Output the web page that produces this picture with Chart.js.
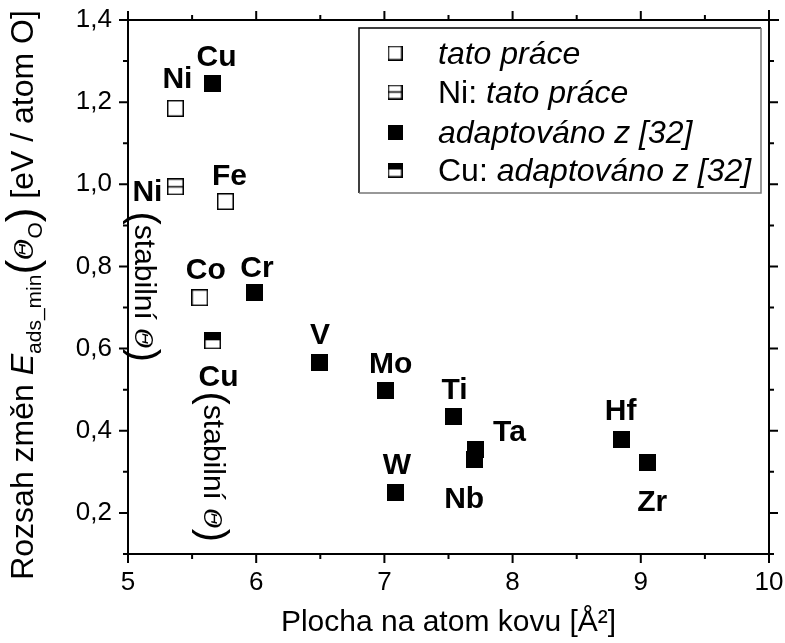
<!DOCTYPE html>
<html>
<head>
<meta charset="utf-8">
<script src="https://cdn.jsdelivr.net/npm/chart.js@4.4.0/dist/chart.umd.min.js"></script>
<style>
  html, body { margin: 0; padding: 0; background: #fff; }
</style>
</head>
<body>
<canvas id="graf" width="785" height="643"></canvas>
<script>
// tato práce – otevřené čtverce
const vlastniX = [5.37, 5.76, 5.56];
const vlastniY = [1.185, 0.958, 0.724];
const vlastniKovy = ['Ni', 'Fe', 'Co'];

// Ni: tato práce (stabilní Θ)
const niX = [5.37];
const niY = [0.994];
const niKovy = ['Ni'];

// adaptováno z [32] – plné čtverce
const prevzateX = [5.66, 5.99, 6.49, 7.01, 7.09, 7.54, 7.71, 7.70, 8.85, 9.05];
const prevzateY = [1.246, 0.737, 0.567, 0.497, 0.250, 0.434, 0.355, 0.329, 0.378, 0.323];
const prevzateKovy = ['Cu', 'Cr', 'V', 'Mo', 'W', 'Ti', 'Ta', 'Nb', 'Hf', 'Zr'];

// Cu: adaptováno z [32] (stabilní Θ)
const cuX = [5.66];
const cuY = [0.619];
const cuKovy = ['Cu'];

const popiskyLegendy = ['tato práce', 'Ni: tato práce', 'adaptováno z [32]', 'Cu: adaptováno z [32]'];

// osy
const xTicky = [5, 5.5, 6, 6.5, 7, 7.5, 8, 8.5, 9, 9.5, 10];
const yTicky = [0.1, 0.2, 0.3, 0.4, 0.5, 0.6, 0.7, 0.8, 0.9, 1.0, 1.1, 1.2, 1.3, 1.4];

// posuny popisků od bodu (px)
const posunVlastni = [[2, -31], [4, -27], [6, -29]];
const posunNi = [[-28, 3]];
const posunPrevzate = [[4, -28], [2, -26], [1, -29], [5, -29], [1, -29], [1, -29], [34, -19], [-10, 37], [-1, -31], [5, 38]];
const posunCu = [[6, 34]];

const PISMO = "'Liberation Sans', Arial, sans-serif";

function body(xs, ys) {
  return xs.map((x, i) => ({ x: x, y: ys[i] }));
}

// značky bodů kreslené do malého canvasu
function znacka(typ, s) {
  const c = document.createElement('canvas');
  c.width = s; c.height = s;
  const g = c.getContext('2d');
  const w = 1.5;
  g.fillStyle = '#fff';
  g.fillRect(0, 0, s, s);
  g.fillStyle = '#000';
  if (typ === 'plny') g.fillRect(0, 0, s, s);
  if (typ === 'pulka') g.fillRect(0, 0, s, Math.round(s * 0.47));
  g.strokeStyle = '#000';
  g.lineWidth = w;
  g.strokeRect(w / 2, w / 2, s - w, s - w);
  if (typ === 'cara') {
    g.beginPath();
    g.moveTo(0, s / 2); g.lineTo(s, s / 2);
    g.stroke();
  }
  return c;
}

const typy = ['prazdny', 'cara', 'plny', 'pulka'];
const znackyBodu = typy.map(t => znacka(t, 17));
const znackyLegendy = typy.map(t => znacka(t, 15));

// text složený z kousků s různým písmem
function kresliCasti(g, casti) {
  let w = 0;
  casti.forEach(c => { g.font = c.font; c.w = g.measureText(c.t).width; w += c.w; });
  let x = -w / 2;
  casti.forEach(c => {
    g.font = c.font;
    g.fillText(c.t, x, c.dy || 0);
    x += c.w;
  });
}

function stabilni(g, sx, sy) {
  g.save();
  g.translate(sx - 11, sy);
  g.rotate(Math.PI / 2);
  g.textAlign = 'left';
  g.textBaseline = 'alphabetic';
  kresliCasti(g, [
    { t: '(', font: `40px ${PISMO}`, dy: 4 },
    { t: 'stabilní ', font: `30px ${PISMO}` },
    { t: 'Θ', font: `italic 25px 'DejaVu Serif'` },
    { t: ')', font: `40px ${PISMO}`, dy: 4 }
  ]);
  g.restore();
}

const ramecek = {
  id: 'ramecek',
  afterDraw(chart) {
    const g = chart.ctx;
    const a = chart.chartArea;
    const sx = chart.scales.x, sy = chart.scales.y;
    g.save();
    g.strokeStyle = '#000';
    g.lineWidth = 2;
    g.beginPath();
    g.moveTo(a.left, a.top); g.lineTo(a.right + 10, a.top);
    g.moveTo(a.right, a.top - 10); g.lineTo(a.right, a.bottom);
    g.moveTo(a.left, a.top); g.lineTo(a.left, a.bottom);
    g.moveTo(a.left - 1, a.bottom); g.lineTo(a.right, a.bottom);
    xTicky.forEach(v => {
      const p = sx.getPixelForValue(v);
      const d = Number.isInteger(v) ? 9 : 5;
      g.moveTo(p, a.bottom); g.lineTo(p, a.bottom + d);
      g.moveTo(p, a.top); g.lineTo(p, a.top - d);
    });
    yTicky.forEach(v => {
      const p = sy.getPixelForValue(v);
      const d = Math.round(v * 10) % 2 === 0 ? 9 : 5;
      g.moveTo(a.left, p); g.lineTo(a.left - d, p);
      g.moveTo(a.right, p); g.lineTo(a.right + d, p);
    });
    g.stroke();

    // popisek osy x
    g.fillStyle = '#000';
    g.textAlign = 'center';
    g.textBaseline = 'alphabetic';
    g.font = `30px ${PISMO}`;
    g.fillText('Plocha na atom kovu [Å²]', (a.left + a.right) / 2, 631);

    // popisek osy y
    g.save();
    g.translate(33, (a.top + a.bottom) / 2 + 8);
    g.rotate(-Math.PI / 2);
    g.textAlign = 'left';
    kresliCasti(g, [
      { t: 'Rozsah změn ', font: `32px ${PISMO}` },
      { t: 'E', font: `italic 32px ${PISMO}` },
      { t: 'ads_min', font: `21px ${PISMO}`, dy: 8 },
      { t: '(', font: `44px ${PISMO}`, dy: 4 },
      { t: 'Θ', font: `italic 26px 'DejaVu Serif'` },
      { t: 'O', font: `21px ${PISMO}`, dy: 9 },
      { t: ')', font: `44px ${PISMO}`, dy: 4 },
      { t: ' [eV / atom O]', font: `32px ${PISMO}` }
    ]);
    g.restore();
    g.restore();
  }
};

const popisky = {
  id: 'popisky',
  afterDatasetsDraw(chart) {
    const g = chart.ctx;
    const sady = [
      [vlastniKovy, posunVlastni],
      [niKovy, posunNi],
      [prevzateKovy, posunPrevzate],
      [cuKovy, posunCu]
    ];
    g.save();
    g.fillStyle = '#000';
    g.textAlign = 'center';
    g.textBaseline = 'alphabetic';
    g.font = `bold 30px ${PISMO}`;
    const vyska = 0.716 * 30;
    sady.forEach(([jmena, posuny], i) => {
      chart.getDatasetMeta(i).data.forEach((el, j) => {
        g.fillText(jmena[j], el.x + posuny[j][0], el.y + posuny[j][1] + vyska / 2);
      });
    });
    // svislé poznámky u stabilních konfigurací
    const ni = chart.getDatasetMeta(1).data[0];
    stabilni(g, ni.x - 29, ni.y + 100);
    const cu = chart.getDatasetMeta(3).data[0];
    stabilni(g, cu.x + 2, cu.y + 126);
    g.restore();
  }
};

const legenda = {
  id: 'legenda',
  afterDraw(chart) {
    const g = chart.ctx;
    const L = 359, T = 28, R = 761, B = 193;
    g.save();
    g.lineWidth = 1.5;
    g.strokeStyle = '#000';
    g.beginPath();
    g.moveTo(L, B); g.lineTo(L, T); g.lineTo(R, T);
    g.stroke();
    g.strokeStyle = '#777';
    g.beginPath();
    g.moveTo(R, T); g.lineTo(R, B); g.lineTo(L, B);
    g.stroke();
    const radky = [53, 92, 132, 170];
    g.fillStyle = '#000';
    g.textAlign = 'left';
    g.textBaseline = 'alphabetic';
    chart.data.datasets.forEach((ds, i) => {
      const y = radky[i];
      g.drawImage(znackyLegendy[i], 395 - 7.5, y - 7.5);
      const casti = ds.label.split(': ');
      let x = 438;
      const base = y + 11;
      if (casti.length > 1) {
        g.font = `32px ${PISMO}`;
        const t = casti[0] + ': ';
        g.fillText(t, x, base);
        x += g.measureText(t).width;
      }
      g.font = `italic 32px ${PISMO}`;
      g.fillText(casti[casti.length - 1], x, base);
    });
    g.restore();
  }
};

const ctx = document.getElementById('graf').getContext('2d');
new Chart(ctx, {
  type: 'scatter',
  data: {
    datasets: [
      { label: popiskyLegendy[0], data: body(vlastniX, vlastniY), pointStyle: znackyBodu[0] },
      { label: popiskyLegendy[1], data: body(niX, niY), pointStyle: znackyBodu[1] },
      { label: popiskyLegendy[2], data: body(prevzateX, prevzateY), pointStyle: znackyBodu[2] },
      { label: popiskyLegendy[3], data: body(cuX, cuY), pointStyle: znackyBodu[3] }
    ]
  },
  options: {
    responsive: false,
    animation: false,
    devicePixelRatio: 1,
    layout: { padding: { top: 20, right: 16, left: 0, bottom: 0 } },
    plugins: {
      legend: { display: false },
      tooltip: { enabled: false }
    },
    scales: {
      x: {
        type: 'linear',
        min: 5, max: 10,
        grid: { display: false },
        border: { display: false },
        afterBuildTicks: s => { s.ticks = xTicky.map(v => ({ value: v })); },
        afterFit: s => { s.height = 89; s.paddingLeft = 0; s.paddingRight = 0; },
        ticks: {
          padding: 5,
          color: '#000',
          maxRotation: 0,
          autoSkip: false,
          font: { family: PISMO, size: 26 },
          callback: v => Number.isInteger(v) ? String(v) : ''
        }
      },
      y: {
        min: 0.1, max: 1.4,
        grid: { display: false },
        border: { display: false },
        afterBuildTicks: s => { s.ticks = yTicky.map(v => ({ value: v })); },
        afterFit: s => { s.width = 128; s.paddingTop = 0; s.paddingBottom = 0; },
        ticks: {
          padding: 8,
          color: '#000',
          autoSkip: false,
          font: { family: PISMO, size: 26 },
          callback: v => Math.round(v * 10) % 2 === 0 ? v.toFixed(1).replace('.', ',') : ''
        }
      }
    }
  },
  plugins: [ramecek, popisky, legenda]
});
</script>
</body>
</html>
